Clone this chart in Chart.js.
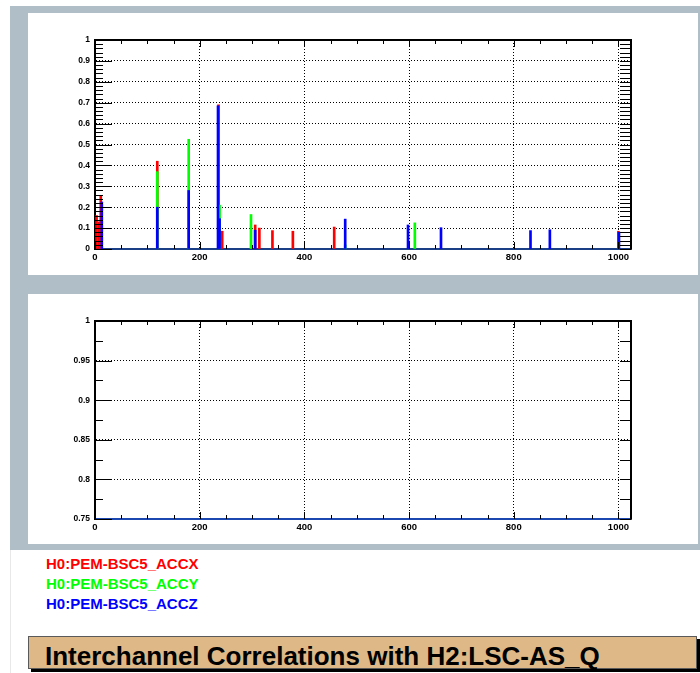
<!DOCTYPE html>
<html>
<head>
<meta charset="utf-8">
<script src="https://cdn.jsdelivr.net/npm/chart.js@4.4.1/dist/chart.umd.min.js"></script>
<style>
body{margin:0;width:700px;height:673px;background:#fff;position:relative;overflow:hidden;font-family:"Liberation Sans",Arial,sans-serif;}
#bg{position:absolute;left:10px;top:6px;width:690px;height:544px;background:#afbec7;}
.pad{position:absolute;left:28px;width:670px;background:#fff;}
#pad1{top:13px;height:262px;}
#pad2{top:294px;height:250px;}
#vline{position:absolute;left:10px;top:550px;width:1px;height:123px;background:#e8e8e8;}
#legend{position:absolute;left:46px;top:554px;font-weight:bold;font-size:15px;line-height:20px;}
#title{position:absolute;left:28px;top:636px;width:669px;height:33px;box-sizing:border-box;background:#deb887;border:1px solid #5a5a5a;box-shadow:3px 3px 0 #000;font-weight:bold;font-size:26px;line-height:normal;padding:4px 0 0 16px;white-space:nowrap;}
</style>
</head>
<body>
<div id="bg"></div>
<div class="pad" id="pad1"><canvas id="c1" width="670" height="262"></canvas></div>
<div class="pad" id="pad2"><canvas id="c2" width="670" height="250"></canvas></div>
<div id="vline"></div>
<div id="legend"></div>
<div id="title">Interchannel Correlations with H2:LSC-AS_Q</div>
<script>
// --- données ---
const seriesNames = ['H0:PEM-BSC5_ACCX', 'H0:PEM-BSC5_ACCY', 'H0:PEM-BSC5_ACCZ'];
const seriesColors = ['#ff0000', '#00ff00', '#0000ff'];

// fréquences (Hz) et corrélations
const freqX = [3, 8, 11, 119, 236, 243, 306, 314, 339, 378, 457, 1000];
const corrX = [0.16, 0.13, 0.255, 0.42, 0.69, 0.085, 0.115, 0.1, 0.088, 0.085, 0.105, 0.085];

const freqY = [119, 179, 238, 298, 478, 611];
const corrY = [0.37, 0.525, 0.21, 0.165, 0.02, 0.125];

const freqZ = [13, 119, 179, 235, 238, 306, 478, 598, 661, 832, 869, 1001];
const corrZ = [0.225, 0.2, 0.28, 0.685, 0.145, 0.09, 0.143, 0.115, 0.102, 0.088, 0.092, 0.08];

const xTicks = [0, 200, 400, 600, 800, 1000];
const xMax = 1024;

const freqs = [freqX, freqY, freqZ];
const corrs = [corrX, corrY, corrZ];

// --- légende ---
document.getElementById('legend').innerHTML = seriesNames
    .map((n, i) => '<div style="color:' + seriesColors[i] + '">' + n + '</div>').join('');

// --- cadre + graduations façon ROOT ---
const frameTicks = {
    id: 'frameTicks',
    afterDraw(chart, args, opts) {
        const {ctx, chartArea: a, scales: {x, y}} = chart;
        ctx.save();
        ctx.strokeStyle = '#000';
        ctx.lineWidth = 1;
        ctx.beginPath();
        const nY = Math.round((y.max - y.min) / opts.yMinor);
        for (let k = 0; k <= nY; k++) {
            const v = y.min + k * opts.yMinor;
            const py = Math.round(y.getPixelForValue(v)) + 0.5;
            const r = v / opts.yMajor;
            const major = Math.abs(r - Math.round(r)) < 1e-6;
            ctx.moveTo(a.left, py); ctx.lineTo(a.left + (major ? 17 : 8), py);
            ctx.moveTo(a.right, py); ctx.lineTo(a.right - 11, py);
        }
        for (let v = 0; v <= x.max; v += opts.xMinor) {
            const px = Math.round(x.getPixelForValue(v)) + 0.5;
            const len = v % 200 === 0 ? 7 : 4;
            ctx.moveTo(px, a.bottom); ctx.lineTo(px, a.bottom - len);
            ctx.moveTo(px, a.top); ctx.lineTo(px, a.top + len);
        }
        ctx.stroke();
        ctx.lineWidth = 2;
        ctx.beginPath();
        ctx.moveTo(a.left, a.top); ctx.lineTo(a.right, a.top); ctx.lineTo(a.right, a.bottom);
        ctx.stroke();
        ctx.restore();
    }
};

const fmt = v => String(+Number(v).toFixed(3));

function makeChart(id, yMin, yStep, yMinor, xAxisH, baseColor) {
    return new Chart(document.getElementById(id), {
        type: 'bar',
        data: {
            datasets: seriesNames.map((n, i) => ({
                label: n,
                data: freqs[i].map((f, j) => ({x: f, y: corrs[i][j]})),
                backgroundColor: seriesColors[i],
                barThickness: 2,
                grouped: false,
                order: 2 - i
            }))
        },
        options: {
            responsive: false,
            animation: false,
            layout: {padding: {top: 27, right: 67, left: 0, bottom: 0}},
            plugins: {legend: {display: false}, tooltip: {enabled: false}, frameTicks: {yMinor: yMinor, yMajor: yStep, xMinor: 50}},
            scales: {
                x: {
                    type: 'linear', min: 0, max: xMax, offset: false,
                    afterBuildTicks: s => { s.ticks = xTicks.map(v => ({value: v})); },
                    afterFit: s => { s.height = xAxisH; },
                    grid: {color: '#000', lineWidth: 1, drawTicks: false, offset: false},
                    border: {color: baseColor, width: 2, dash: [1, 2]},
                    ticks: {callback: fmt, color: '#000', font: {family: 'Liberation Sans', weight: 'bold', size: 9.5}, padding: 3, maxRotation: 0, autoSkip: false}
                },
                y: {
                    min: yMin, max: 1,
                    afterFit: s => { s.width = 67; },
                    grid: {color: '#000', lineWidth: 1, drawTicks: false},
                    border: {color: '#000', width: 2, dash: [1, 2]},
                    ticks: {stepSize: yStep, callback: fmt, color: '#000', font: {family: 'Liberation Sans', weight: 'bold', size: 8.5}, padding: 5}
                }
            }
        },
        plugins: [frameTicks]
    });
}

makeChart('c1', 0, 0.1, 0.02, 26, '#1b3f86');
makeChart('c2', 0.75, 0.05, 0.025, 25, '#1a48b0');
</script>
</body>
</html>
